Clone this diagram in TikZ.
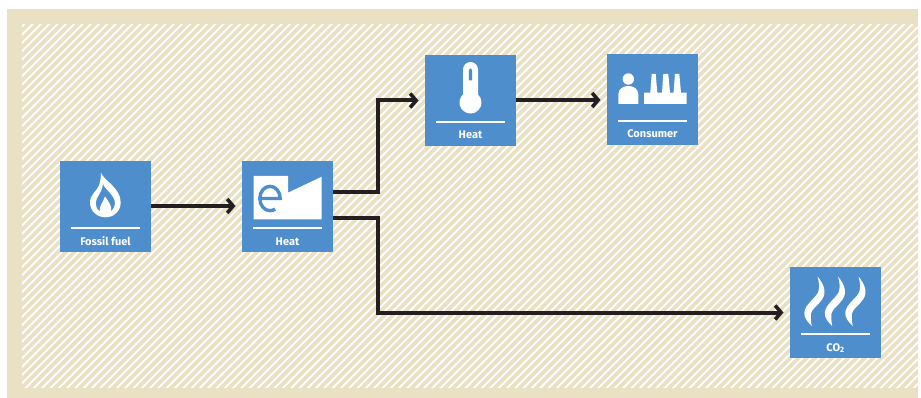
\documentclass[tikz,border=0pt]{standalone}
\usepackage{fontspec}
\setmainfont{Fira Sans}
\usetikzlibrary{arrows.meta,calc}
\definecolor{sandc}{HTML}{EAE0C4}
\definecolor{bluec}{HTML}{4F8ECC}
\definecolor{inkc}{HTML}{231F20}
\tikzset{
  tile/.style={fill=bluec,draw=none,minimum width=91pt,minimum height=91pt,inner sep=0pt,outer sep=0pt},
  tilelabel/.style={font=\fontsize{11}{12}\selectfont\bfseries,text=white,inner sep=0pt,anchor=base},
  rulew/.style={draw=white,line width=1.7pt},
  ico/.style={fill=white,draw=none},
  flow/.style={draw=inkc,line width=4pt,line join=miter,shorten >=6.5pt,
    -{Straight Barb[length=6pt,width=14pt,line width=3.6pt]}},
}
\begin{document}
\begin{tikzpicture}[x=1pt,y=-1pt,line cap=butt]
\useasboundingbox (0,0) rectangle (921,398);
\fill[white] (0,0) rectangle (921,398);
\fill[sandc] (7,9) rectangle (918,398);
\fill[white] (22,24) rectangle (918,388);
\begin{scope}
\clip (22,24) rectangle (918,388);
\foreach \k in {0,...,160}{
  \draw[sandc,line width=3.7pt] ({22+\k*8.3},14) -- ({22+\k*8.3-384},398);
}
\end{scope}
% tiles
\node[tile] (fossil) at (105.5,206.5) {};
\node[tile] (plant) at (287.5,206.5) {};
\node[tile] (heat) at (470.5,100.5) {};
\node[tile] (consumer) at (652.5,99.5) {};
\node[tile] (co) at (835.5,312.5) {};
% rules and labels
\foreach \n/\t in {fossil/Fossil fuel,plant/Heat,heat/Heat,consumer/Consumer}{
  \draw[rulew] ($(\n.center)+(-34.5,21.5)$) -- ($(\n.center)+(34.5,21.5)$);
  \node[tilelabel] at ($(\n.center)+(0,38.5)$) {\t};
}
\draw[rulew] ($(co.center)+(-34.5,21.5)$) -- ($(co.center)+(34.5,21.5)$);
\node[tilelabel] at ($(co.center)+(0,38.5)$) {CO\textsubscript{2}};
% flame
\begin{scope}[shift={(fossil.center)}]
\fill[ico,even odd rule]
  (-4.5,-33.8) .. controls (-2,-26) and (15.2,-19) .. (15.2,-4)
  .. controls (15.2,5) and (8,10.8) .. (0,10.8)
  .. controls (-8,10.8) and (-15.5,5) .. (-15.5,-4)
  .. controls (-15.5,-12) and (-9,-15) .. (-6.5,-21)
  .. controls (-5.2,-25) and (-4.5,-29) .. (-4.5,-33.8) -- cycle
  (-2.5,-23) .. controls (-2,-18) and (9.5,-12) .. (9.5,-3)
  .. controls (9.5,0) and (8,3) .. (5.5,5)
  .. controls (7,0) and (3,-5) .. (-0.5,-10)
  .. controls (-2,-5) and (-7,0) .. (-5.5,5)
  .. controls (-8.5,3) and (-9.8,0) .. (-9.8,-3)
  .. controls (-9.8,-10) and (-3.5,-13) .. (-2.5,-23) -- cycle;
\end{scope}
% factory with e
\begin{scope}[shift={(plant.center)}]
\fill[ico] (-33.8,-30.5) -- (0.5,-30.5) -- (0.5,-13.8) -- (34.2,-29.8) -- (34.2,12.8) -- (-33.8,12.8) -- cycle;
\draw[bluec,line width=3.4pt] (-27.7,-8) -- (-7.3,-8)
  arc[start angle=0,end angle=-300,x radius=10.2,y radius=12.2];
\end{scope}
% thermometer
\begin{scope}[shift={(heat.center)}]
\fill[ico] (-7.5,-31) arc[start angle=180,end angle=360,radius=7.5] -- (7.5,-6)
  arc[start angle=-47,end angle=227,radius=11] -- cycle;
\fill[bluec] (-1.7,-20) -- (-1.7,-30.5) arc[start angle=180,end angle=360,radius=1.7] -- (1.7,-20) -- cycle;
\end{scope}
% person and factory
\begin{scope}[shift={(consumer.center)}]
\fill[ico] (-24.2,-20.5) circle[radius=5.7];
\fill[ico] (-34.2,4.5) -- (-34.2,-5) .. controls (-34.2,-11) and (-29,-13.5) .. (-24.2,-13.5)
  .. controls (-19.4,-13.5) and (-14.2,-11) .. (-14.2,-5) -- (-14.2,4.5) -- cycle;
\fill[ico] (-8.5,4.5) -- (-8.5,-6.8) -- (-2.2,-6.8) -- (-0.8,-25.5) -- (3.2,-25.5) -- (4.8,-6.8)
  -- (9.5,-6.8) -- (10.8,-25.5) -- (15.8,-25.5) -- (17.5,-6.8)
  -- (21,-6.8) -- (22.5,-25.5) -- (26.8,-25.5) -- (28.5,-6.8)
  -- (34.2,-6.8) -- (34.2,4.5) -- cycle;
\end{scope}
% steam
\begin{scope}[shift={(co.center)}]
\foreach \d in {-20.5,0,20.5}{
  \begin{scope}[xshift=\d pt]
  \fill[ico] (2.5,-36) .. controls (9,-28) and (12,-20) .. (7,-13)
    .. controls (3,-7) and (-3,-4) .. (-4,1)
    .. controls (-4.5,5) and (-4,10) .. (-3.3,13.5)
    .. controls (-8,9) and (-11,5) .. (-10.7,0)
    .. controls (-10,-8) and (0,-14) .. (3,-20)
    .. controls (5,-25) and (4,-31) .. (2.5,-36) -- cycle;
  \end{scope}
}
\end{scope}
% connectors
\coordinate (j1) at ($(plant.east)+(45,-14.3)$);
\coordinate (j2) at ($(plant.east)+(45,12)$);
\draw[flow] ($(fossil.east)+(0,-0.5)$) -- ($(plant.west)+(0,-0.5)$);
\draw[flow] ($(plant.east)+(0,-14.3)$) -- (j1) |- (heat.west);
\draw[flow] ($(plant.east)+(0,12)$) -- (j2) |- (co.west);
\draw[flow] ($(heat.east)+(0,-0.5)$) -- ($(consumer.west)+(0,0.5)$ -| consumer.west);
\end{tikzpicture}
\end{document}
